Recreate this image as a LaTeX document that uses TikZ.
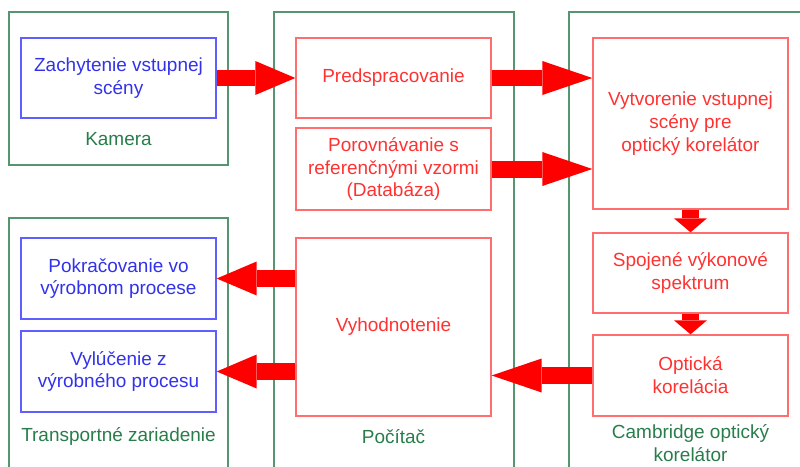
\documentclass[tikz,border=0pt]{standalone}
\usepackage{fontspec}
\setmainfont{Liberation Sans}
\usepackage{tikz}
\usetikzlibrary{arrows.meta, positioning, calc}
\definecolor{mygreen}{RGB}{85,150,110}
\definecolor{txtgreen}{RGB}{40,125,75}
\definecolor{myblue}{RGB}{95,95,255}
\definecolor{txtblue}{RGB}{50,50,235}
\definecolor{myred}{RGB}{255,110,110}
\definecolor{txtred}{RGB}{255,50,50}
\definecolor{arrred}{RGB}{255,0,0}
\tikzset{
  unit/.style={draw=mygreen, line width=0.8pt},
  unitlabel/.style={text=txtgreen, align=center, font=\fontsize{10.8}{13}\selectfont},
  bluebox/.style={rectangle, draw=myblue, text=txtblue, minimum width=3.9cm,
    minimum height=1.6cm, align=center, line width=0.8pt, inner sep=0pt,
    font=\fontsize{10.8}{13}\selectfont},
  redbox/.style={rectangle, draw=myred, text=txtred, minimum width=3.9cm,
    minimum height=1.6cm, align=center, line width=0.8pt, inner sep=0pt,
    font=\fontsize{10.8}{13}\selectfont},
  fatarrow/.style={arrred, line width=0.34cm,
    -{Triangle[length=0.8cm, width=0.68cm, line width=0pt]}},
  longarrow/.style={arrred, line width=0.34cm,
    -{Triangle[length=1.0cm, width=0.68cm, line width=0pt]}},
  downarrow/.style={arrred, line width=0.34cm,
    -{Triangle[length=0.28cm, width=0.66cm, line width=0pt]}}
}
\begin{document}
\begin{tikzpicture}[x=0.02cm, y=-0.02cm]
  \path[use as bounding box, clip] (0,0) rectangle (800,466);

  % Units (green frames)
  \draw[unit] (9,12) rectangle (228,165);
  \draw[unit] (9,218) rectangle (228,490);
  \draw[unit] (274,12) rectangle (514,490);
  \draw[unit] (569,12) rectangle (830,490);

  % Kamera
  \node[bluebox] (zach) at (118.5,78) {Zachytenie vstupnej\\scény};
  \node[unitlabel] (kamera) at (118.5,139) {Kamera};

  % Pocitac
  \node[redbox] (pred) at (393.5,78) {Predspracovanie};
  \node[redbox, minimum height=1.64cm] (porov) at (393.5,169) {Porovnávanie s\\referenčnými vzormi\\(Databáza)};
  \node[redbox, minimum height=3.56cm] (vyhod) at (393.5,327) {Vyhodnotenie};
  \node[unitlabel] (pocitac) at (393.5,437) {Počítač};

  % Cambridge opticky korelator
  \node[redbox, minimum height=3.42cm] (vytv) at (690.5,123.5) {Vytvorenie vstupnej\\scény pre\\optický korelátor};
  \node[redbox] (spoj) at (690.5,273) {Spojené výkonové\\spektrum};
  \node[redbox, minimum height=1.62cm] (optk) at (690.5,375.5) {Optická\\korelácia};
  \node[unitlabel] (cambridge) at (690.5,443) {Cambridge optický\\korelátor};

  % Transportne zariadenie
  \node[bluebox, minimum height=1.62cm] (pokr) at (118.5,278.5) {Pokračovanie vo\\výrobnom procese};
  \node[bluebox, minimum height=1.62cm] (vylu) at (118.5,371.5) {Vylúčenie z\\výrobného procesu};
  \node[unitlabel] (transport) at (118.5,436) {Transportné zariadenie};

  % Data flow
  \draw[fatarrow] (zach.east) -- (pred.west);
  \draw[longarrow] (pred.east) -- (pred.east -| vytv.west);
  \draw[longarrow] (porov.east) -- (porov.east -| vytv.west);
  \draw[downarrow] (vytv.south) -- (spoj.north);
  \draw[downarrow] (spoj.south) -- (optk.north);
  \draw[longarrow] (optk.west) -- (optk.west -| vyhod.east);
  \draw[fatarrow] (pokr.east -| vyhod.west) -- (pokr.east);
  \draw[fatarrow] (vylu.east -| vyhod.west) -- (vylu.east);
\end{tikzpicture}
\end{document}
